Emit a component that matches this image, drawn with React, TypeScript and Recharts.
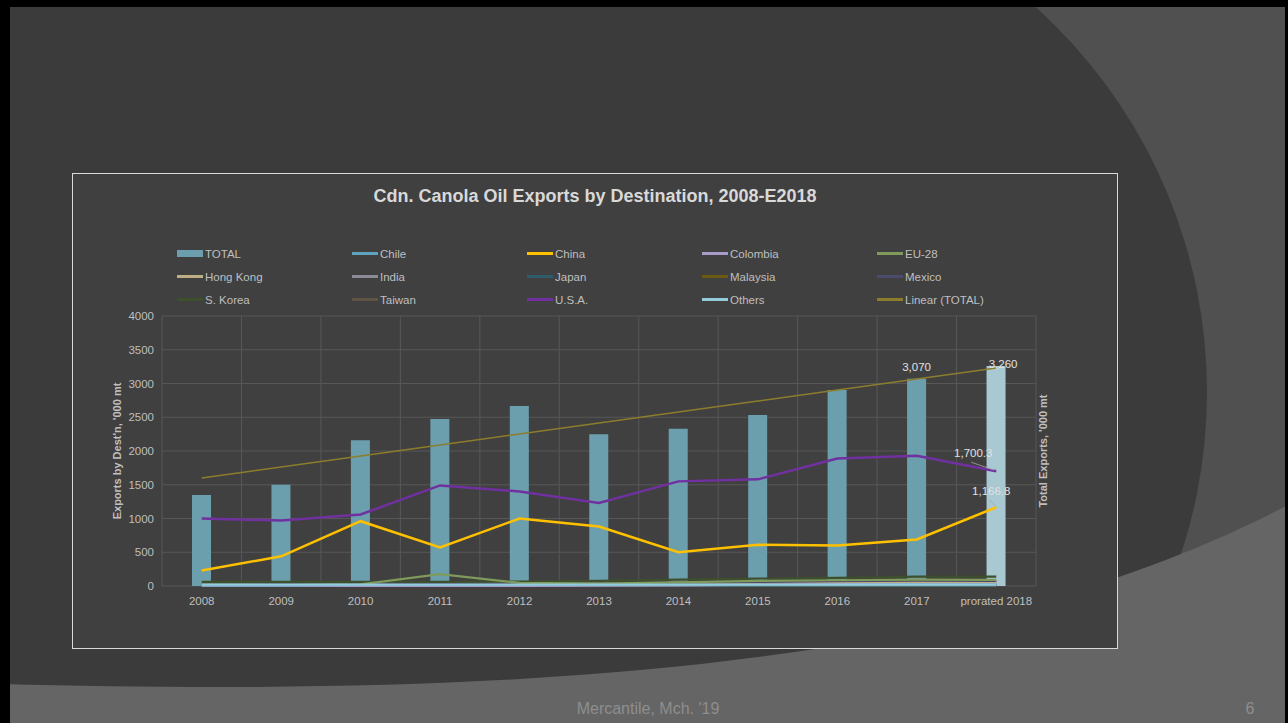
import React from 'react';
import { ComposedChart, Bar, Line, XAxis, YAxis, CartesianGrid, Cell, LabelList } from 'recharts';

const categories = ['2008', '2009', '2010', '2011', '2012', '2013', '2014', '2015', '2016', '2017', 'prorated 2018'];
const yTicks = [0, 500, 1000, 1500, 2000, 2500, 3000, 3500, 4000];

const total = [1350, 1500, 2160, 2475, 2665, 2250, 2330, 2535, 2905, 3070, 3260];
const chile = [10, 10, 15, 15, 15, 15, 15, 15, 15, 20, 20];
const china = [230, 440, 960, 570, 1000, 880, 500, 610, 600, 690, 1166.8];
const colombia = [0, 0, 0, 0, 0, 5, 10, 20, 30, 40, 40];
const eu28 = [20, 15, 25, 175, 45, 35, 55, 75, 85, 95, 90];
const hongKong = [40, 40, 40, 40, 40, 40, 45, 55, 60, 60, 60];
const india = [5, 5, 5, 5, 5, 5, 5, 5, 5, 5, 5];
const japan = [20, 15, 15, 15, 10, 10, 10, 10, 10, 10, 10];
const malaysia = [5, 5, 5, 10, 10, 10, 10, 10, 10, 10, 10];
const mexico = [30, 30, 30, 30, 35, 40, 50, 60, 70, 80, 75];
const sKorea = [60, 60, 60, 60, 65, 75, 95, 110, 120, 140, 140];
const taiwan = [30, 30, 30, 30, 30, 30, 30, 30, 30, 30, 30];
const usa = [1000, 970, 1060, 1490, 1400, 1230, 1550, 1580, 1890, 1930, 1700.3];
const others = [20, 20, 20, 20, 20, 20, 20, 20, 20, 20, 20];
const linearTotal = [1600, 1763, 1926, 2089, 2252, 2415, 2578, 2741, 2904, 3067, 3230];

const smallSeries = [
  { key: 'taiwan', name: 'Taiwan', values: taiwan, color: '#5e5344' },
  { key: 'malaysia', name: 'Malaysia', values: malaysia, color: '#6b5a12' },
  { key: 'india', name: 'India', values: india, color: '#8a8b97' },
  { key: 'japan', name: 'Japan', values: japan, color: '#2e5c6a' },
  { key: 'colombia', name: 'Colombia', values: colombia, color: '#a99bc8' },
  { key: 'hongKong', name: 'Hong Kong', values: hongKong, color: '#bdae86' },
  { key: 'mexico', name: 'Mexico', values: mexico, color: '#4d4b6b' },
  { key: 'sKorea', name: 'S. Korea', values: sKorea, color: '#3d4f2c' },
  { key: 'eu28', name: 'EU-28', values: eu28, color: '#7f9a5a' },
  { key: 'chile', name: 'Chile', values: chile, color: '#5fa3bd' },
  { key: 'others', name: 'Others', values: others, color: '#93cbdb' },
];

const BAR_COLOR = '#6c9fae';
const BAR_COLOR_LAST = '#a8c8d2';
const CHINA_COLOR = '#ffc000';
const USA_COLOR = '#7030a0';
const TREND_COLOR = '#8c7d2c';

const legendItems = [
  { name: 'TOTAL', color: BAR_COLOR, bar: true },
  { name: 'Chile', color: '#5fa3bd' },
  { name: 'China', color: CHINA_COLOR },
  { name: 'Colombia', color: '#a99bc8' },
  { name: 'EU-28', color: '#7f9a5a' },
  { name: 'Hong Kong', color: '#bdae86' },
  { name: 'India', color: '#8a8b97' },
  { name: 'Japan', color: '#2e5c6a' },
  { name: 'Malaysia', color: '#6b5a12' },
  { name: 'Mexico', color: '#4d4b6b' },
  { name: 'S. Korea', color: '#3d4f2c' },
  { name: 'Taiwan', color: '#5e5344' },
  { name: 'U.S.A.', color: USA_COLOR },
  { name: 'Others', color: '#93cbdb' },
  { name: 'Linear (TOTAL)', color: TREND_COLOR },
];

const data = categories.map((c, i) => {
  const row: any = { cat: c, total: total[i], china: china[i], usa: usa[i], trend: linearTotal[i] };
  smallSeries.forEach((s) => { row[s.key] = s.values[i]; });
  return row;
});

const FONT = '"Liberation Sans", Arial, sans-serif';
const TXT = '#bfbfbf';

const fmt = (v: number) => v.toLocaleString('en-US', { maximumFractionDigits: 1, minimumFractionDigits: v % 1 ? 1 : 0 });

const BarLabel = (props: any) => {
  const { x, y, width, value, index } = props;
  if (index < 9) return null;
  const dx = index === 10 ? 7 : 0;
  const dy = index === 10 ? 2 : -8;
  return (
    <text x={x + width / 2 + dx} y={y + dy} textAnchor="middle" fill="#e0e0e0" fontSize={11.5} fontFamily={FONT}>
      {fmt(value)}
    </text>
  );
};

const UsaLabel = (props: any) => {
  const { x, y, value, index } = props;
  if (index !== 10) return null;
  return (
    <g>
      <line x1={x - 25} y1={y - 9} x2={x - 2} y2={y - 1} stroke="#a6a6a6" strokeWidth={0.8} />
      <text x={x - 23} y={y - 14} textAnchor="middle" fill="#e0e0e0" fontSize={11.5} fontFamily={FONT}>{fmt(value)}</text>
    </g>
  );
};

const ChinaLabel = (props: any) => {
  const { x, y, value, index } = props;
  if (index !== 10) return null;
  return (
    <g>
      <line x1={x - 7} y1={y - 8} x2={x - 1} y2={y - 1} stroke="#a6a6a6" strokeWidth={0.8} />
      <text x={x - 5} y={y - 12} textAnchor="middle" fill="#e0e0e0" fontSize={11.5} fontFamily={FONT}>{fmt(value)}</text>
    </g>
  );
};

const LeftAxisLabel = (props: any) => {
  const vb = props.viewBox;
  const cx = vb.x + 44;
  const cy = vb.y + vb.height / 2;
  return (
    <text x={cx} y={cy} transform={`rotate(-90 ${cx} ${cy})`} textAnchor="middle" dominantBaseline="central" fill={TXT} fontSize={11} fontWeight="bold" fontFamily={FONT}>
      Exports by Dest'n, '000 mt
    </text>
  );
};

const RightAxisLabel = (props: any) => {
  const vb = props.viewBox;
  const cx = vb.x + 7;
  const cy = vb.y + vb.height / 2;
  return (
    <text x={cx} y={cy} transform={`rotate(-90 ${cx} ${cy})`} textAnchor="middle" dominantBaseline="central" fill={TXT} fontSize={11} fontWeight="bold" fontFamily={FONT}>
      Total Exports, '000 mt
    </text>
  );
};

export default function App() {
  return (
    <div style={{ position: 'absolute', left: 0, top: 0, width: 1288, height: 723, overflow: 'hidden', background: '#3b3b3b', fontFamily: FONT }}>
      <svg width={1288} height={723} style={{ position: 'absolute', left: 0, top: 0 }}>
        <rect x={0} y={0} width={1288} height={723} fill="#505050" />
        <rect x={0} y={0} width={690} height={723} fill="#3b3b3b" />
        <circle cx={689} cy={392} r={518} fill="#3b3b3b" />
        <path d="M 0 684 C 600 700, 1000 655, 1288 505 L 1288 723 L 0 723 Z" fill="#656565" />
        <rect x={0} y={0} width={1288} height={7} fill="#000" />
        <rect x={0} y={0} width={10} height={723} fill="#000" />
        <rect x={1285} y={0} width={3} height={723} fill="#000" />
        <text x={648} y={714} textAnchor="middle" fill="#8e8e8e" fontSize={16} fontFamily={FONT}>Mercantile, Mch. '19</text>
        <text x={1250} y={714} textAnchor="middle" fill="#8e8e8e" fontSize={16} fontFamily={FONT}>6</text>
      </svg>
      <div style={{ position: 'absolute', left: 72, top: 173, width: 1044, height: 474, border: '1px solid #d9d9d9', background: '#404040' }}>
        <div style={{ position: 'absolute', left: 0, top: 11, width: 1044, textAlign: 'center', color: '#d9d9d9', fontSize: 18, fontWeight: 'bold', lineHeight: '22px' }}>
          Cdn. Canola Oil Exports by Destination, 2008-E2018
        </div>
        <div style={{ position: 'absolute', left: 104, top: 68, display: 'grid', gridTemplateColumns: 'repeat(5, 175px)', gridAutoRows: '23px' }}>
          {legendItems.map((it) => (
            <div key={it.name} style={{ display: 'flex', alignItems: 'center', color: TXT, fontSize: 11.5, whiteSpace: 'nowrap' }}>
              <span style={{ display: 'inline-block', width: 26, height: it.bar ? 7 : 2.5, background: it.color, marginRight: 2 }} />
              {it.name}
            </div>
          ))}
        </div>
        <div style={{ position: 'absolute', left: 0, top: 0 }}>
          <ComposedChart width={1044} height={474} data={data} margin={{ top: 142, right: 0, bottom: 0, left: 0 }}>
            <CartesianGrid
              yAxisId="left"
              stroke="#575757"
              strokeWidth={1}
              verticalCoordinatesGenerator={({ offset }: any) =>
                categories.concat(['']).map((_, i) => offset.left + (i * offset.width) / categories.length)
              }
            />
            <XAxis dataKey="cat" height={62} tickLine={false} axisLine={false} tickMargin={5} tick={{ fill: TXT, fontSize: 11.5, fontFamily: FONT }} interval={0} />
            <YAxis yAxisId="left" width={89} domain={[0, 4000]} ticks={yTicks} tickLine={false} axisLine={false} tick={{ fill: TXT, fontSize: 11.5, fontFamily: FONT }} label={<LeftAxisLabel />} />
            <YAxis yAxisId="right" orientation="right" width={81} domain={[0, 4000]} ticks={yTicks} tick={false} tickLine={false} axisLine={false} label={<RightAxisLabel />} />
            <Bar yAxisId="right" dataKey="total" barSize={19} isAnimationActive={false}>
              {data.map((_, i) => (
                <Cell key={i} fill={i === data.length - 1 ? BAR_COLOR_LAST : BAR_COLOR} />
              ))}
              <LabelList dataKey="total" content={<BarLabel />} />
            </Bar>
            {smallSeries.map((s) => (
              <Line key={s.key} yAxisId="left" dataKey={s.key} stroke={s.color} strokeWidth={2.2} dot={false} isAnimationActive={false} />
            ))}
            <Line yAxisId="left" dataKey="china" stroke={CHINA_COLOR} strokeWidth={2.5} dot={false} isAnimationActive={false}>
              <LabelList dataKey="china" content={<ChinaLabel />} />
            </Line>
            <Line yAxisId="left" dataKey="usa" stroke={USA_COLOR} strokeWidth={2.5} dot={false} isAnimationActive={false}>
              <LabelList dataKey="usa" content={<UsaLabel />} />
            </Line>
            <Line yAxisId="right" dataKey="trend" stroke={TREND_COLOR} strokeWidth={1.5} dot={false} isAnimationActive={false} />
          </ComposedChart>
        </div>
      </div>
    </div>
  );
}
